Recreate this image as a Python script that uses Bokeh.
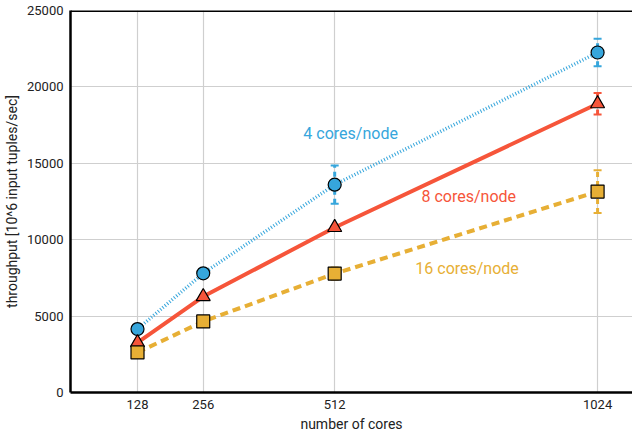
from bokeh.plotting import figure
from bokeh.models import ColumnDataSource, Whisker, TeeHead, FixedTicker, Span, Range1d
from bokeh.core.properties import value
from bokeh.embed import file_html
from bokeh.resources import INLINE

cores = [128, 256, 512, 1024]
tp4 = [4150, 7800, 13600, 22250]
err4 = [300, 300, 1250, 900]
tp8 = [3270, 6280, 10800, 18900]
err8 = [100, 100, 100, 700]
tp16 = [2620, 4650, 7780, 13150]
err16 = [100, 100, 400, 1400]
series_names = ["4 cores/node", "8 cores/node", "16 cores/node"]
y_ticks = [0, 5000, 10000, 15000, 20000, 25000]

FONT = "Roboto"
blue = "#36a6dc"
red = "#f6553a"
gold = "#e7af35"

p = figure(width=632, height=437, output_backend="svg", toolbar_location=None,
           x_range=Range1d(-2.5, 1092), y_range=Range1d(0, 25000),
           min_border_left=10, min_border_right=0, min_border_top=10, min_border_bottom=45)
p.outline_line_color = None
p.background_fill_color = "white"
p.border_fill_color = "white"

for ax in (p.xaxis[0], p.yaxis[0]):
    ax.axis_line_color = "black"
    ax.axis_line_width = 2.5
    ax.major_tick_line_color = None
    ax.minor_tick_line_color = None
    ax.major_tick_out = 0
    ax.major_tick_in = 0
    ax.minor_tick_out = 0
    ax.minor_tick_in = 0
    ax.major_label_text_font = FONT
    ax.major_label_text_font_size = "13px"
    ax.major_label_text_color = "#222222"
    ax.axis_label_text_font = FONT
    ax.axis_label_text_font_size = "14px"
    ax.axis_label_text_font_style = "normal"
    ax.axis_label_text_color = "#222222"
    ax.major_label_standoff = 7

p.xaxis.ticker = FixedTicker(ticks=cores)
p.yaxis.ticker = FixedTicker(ticks=y_ticks)
p.xaxis.axis_label = "number of cores"
p.yaxis.axis_label = "throughput [10^6 input tuples/sec]"
p.xaxis.axis_label_standoff = 4
p.yaxis.axis_label_standoff = 4

p.xgrid.grid_line_color = "#cfcfcf"
p.ygrid.grid_line_color = "#cfcfcf"
p.xgrid.grid_line_width = 1.2
p.ygrid.grid_line_width = 1.2

p.add_layout(Span(location=25000, dimension="width", line_color="black", line_width=3))

def ds(tp, err):
    return ColumnDataSource(dict(x=cores, y=tp,
                                 lo=[a - b for a, b in zip(tp, err)],
                                 hi=[a + b for a, b in zip(tp, err)]))

s4, s8, s16 = ds(tp4, err4), ds(tp8, err8), ds(tp16, err16)

p.line("x", "y", source=s4, line_color=blue, line_width=3.5, line_dash="1 2")
p.line("x", "y", source=s8, line_color=red, line_width=4)
p.line("x", "y", source=s16, line_color=gold, line_width=4, line_dash="8 5")

for s, c in ((s4, blue), (s8, red), (s16, gold)):
    w = Whisker(source=s, base="x", lower="lo", upper="hi", line_color=c, line_width=3,
                line_dash="5 4",
                upper_head=TeeHead(size=8, line_color=c, line_width=2),
                lower_head=TeeHead(size=8, line_color=c, line_width=2))
    p.add_layout(w)

p.scatter("x", "y", source=s4, marker="circle", size=13, fill_color=blue,
          line_color="black", line_width=1.2)
p.scatter("x", "y", source=s8, marker="triangle", size=14, fill_color=red,
          line_color="black", line_width=1.2)
p.scatter("x", "y", source=s16, marker="square", size=13, fill_color=gold,
          line_color="black", line_width=1.2)

lab = ColumnDataSource(dict(x=[451, 681, 669], y=[16950, 12830, 8115],
                            text=series_names, color=[blue, red, gold]))
p.text("x", "y", text="text", source=lab, text_color="color",
       text_font=value(FONT), text_font_size="16px", text_baseline="middle",
       text_align="left")

open("out.html", "w").write(file_html(p, INLINE))
